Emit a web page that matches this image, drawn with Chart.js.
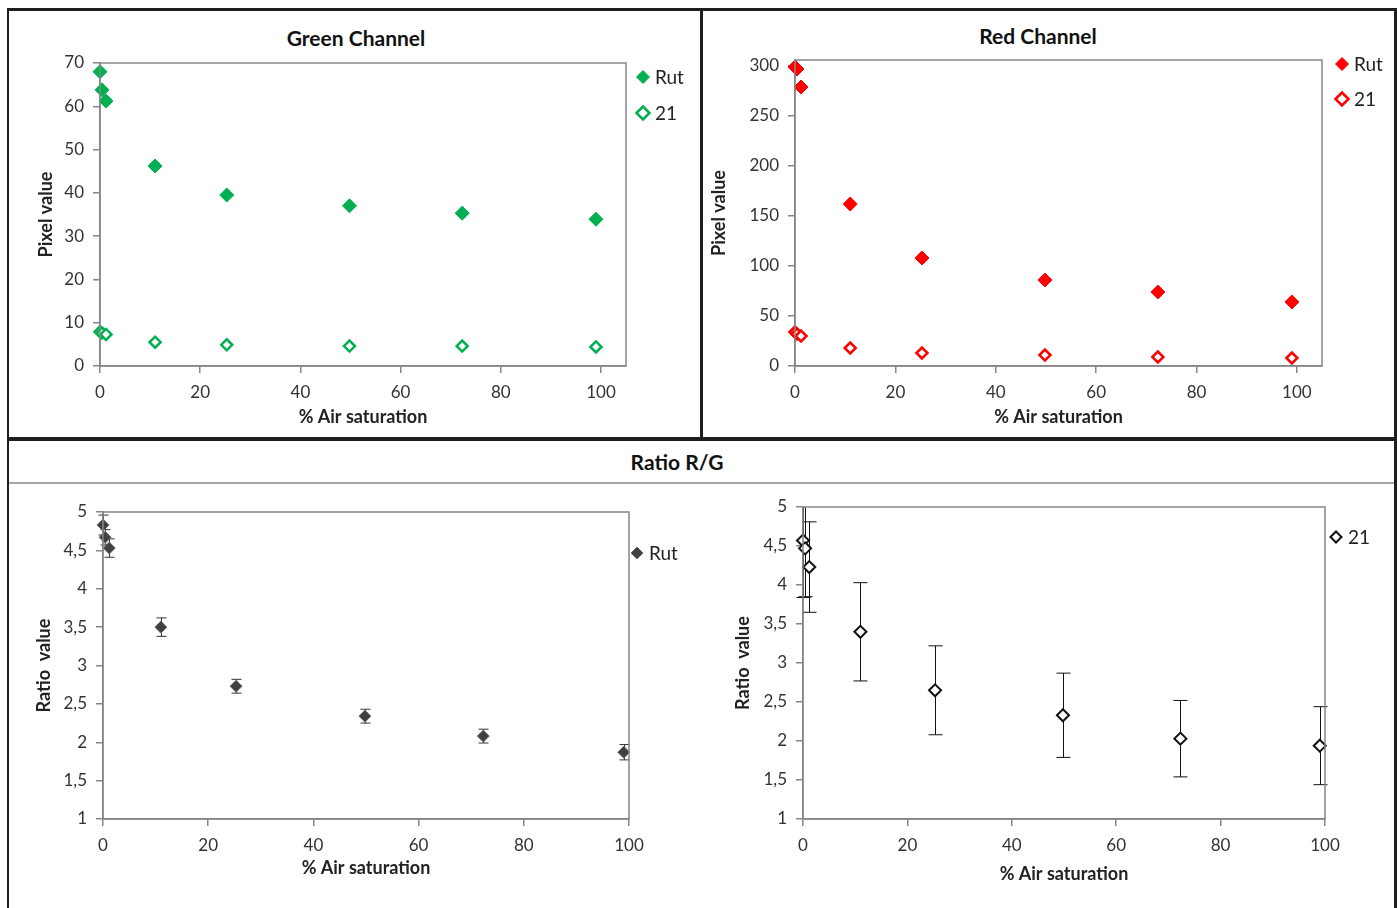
<!DOCTYPE html>
<html lang="en">
<head>
<meta charset="UTF-8">
<title>Channels</title>
<script src="https://cdn.jsdelivr.net/npm/chart.js"></script>
<style>
    body { margin: 0; background: #fff; font-family: Lato, "Open Sans", sans-serif; }
    .page { position: relative; width: 1397px; height: 908px; overflow: hidden; }
    .line { position: absolute; background: #1e1e1e; }
    canvas { position: absolute; }
    .title { position: absolute; font-weight: bold; font-size: 21px; color: #111; transform: translateX(-50%); white-space: nowrap; }
</style>
</head>
<body>
<div class="page">
    <!-- frame -->
    <div class="line" style="left:7px; top:8px; width:1390px; height:3px;"></div>
    <div class="line" style="left:7px; top:8px; width:2px; height:900px;"></div>
    <div class="line" style="left:700px; top:8px; width:3px; height:431px;"></div>
    <div class="line" style="left:1394px; top:8px; width:3px; height:900px;"></div>
    <div class="line" style="left:7px; top:437px; width:1390px; height:4px;"></div>
    <div class="line" style="left:9px; top:482px; width:1385px; height:2px; background:#a6a6a6;"></div>

    <div class="title" style="left:356px; top:25px;">Green Channel</div>
    <div class="title" style="left:1038px; top:23px;">Red Channel</div>
    <div class="title" style="left:677px; top:449px;">Ratio R/G</div>

    <canvas id="green" width="690" height="424" style="left:10px; top:12px;"></canvas>
    <canvas id="red" width="690" height="424" style="left:703px; top:12px;"></canvas>
    <canvas id="ratioRut" width="690" height="422" style="left:10px; top:486px;"></canvas>
    <canvas id="ratio21" width="690" height="422" style="left:703px; top:486px;"></canvas>
</div>
<script>
// % air saturation (x)
const airSat = [0, 0.4, 1.2, 11, 25.3, 49.8, 72.3, 99];

// pixel values
const greenRut = [68, 63.8, 61.2, 46.2, 39.5, 37, 35.3, 33.9];
const green21 = [7.9, 7.6, 7.3, 5.5, 4.9, 4.6, 4.6, 4.4];
const redRut = [299, 297, 279, 162, 108, 86, 74, 64];
const red21 = [34, 32, 30, 18, 13, 11, 9, 8];

// ratio R/G and its error
const ratioRut = [4.83, 4.67, 4.53, 3.50, 2.73, 2.34, 2.08, 1.87];
const ratioRutErr = [0.13, 0.1, 0.12, 0.12, 0.09, 0.09, 0.09, 0.1];
const ratio21 = [4.57, 4.47, 4.23, 3.40, 2.65, 2.33, 2.03, 1.94];
const ratio21Err = [0.73, 0.62, 0.58, 0.63, 0.57, 0.54, 0.49, 0.5];

const xTicks = [0, 20, 40, 60, 80, 100];
const redTicks = [0, 50, 100, 150, 200, 250, 300];

const FONT = "Lato, 'Open Sans', sans-serif";
const AXIS = '#868686';

function pts(ys) {
    return airSat.map((x, i) => ({ x: x, y: ys[i] }));
}

// box around plot area + legend at the right side
const boxLegend = {
    id: 'boxLegend',
    afterDraw(chart, args, o) {
        const ctx = chart.ctx, a = chart.chartArea;
        ctx.save();
        ctx.strokeStyle = AXIS;
        ctx.lineWidth = 1.5;
        ctx.strokeRect(a.left, a.top, a.right - a.left, a.bottom - a.top);
        ctx.font = '19px ' + FONT;
        ctx.textBaseline = 'middle';
        chart.data.datasets.forEach((d, i) => {
            const x = a.right + o.left, y = a.top + o.top + i * o.gap;
            ctx.fillStyle = d.backgroundColor;
            ctx.strokeStyle = d.borderColor;
            ctx.lineWidth = d.borderWidth;
            Chart.helpers.drawPoint(ctx, { pointStyle: 'rectRot', radius: o.r, borderWidth: d.borderWidth }, x, y);
            ctx.fillStyle = '#222';
            ctx.fillText(d.label, x + 12, y + 1);
        });
        ctx.restore();
    }
};

// vertical error bars
const errBars = {
    id: 'errBars',
    beforeDatasetsDraw(chart, args, o) {
        if (!o.values) return;
        const ctx = chart.ctx, a = chart.chartArea;
        const xs = chart.scales.x, ys = chart.scales.y;
        const data = chart.data.datasets[0].data;
        ctx.save();
        ctx.beginPath();
        ctx.rect(a.left - 30, a.top, a.right - a.left + 60, a.bottom - a.top);
        ctx.clip();
        ctx.strokeStyle = o.color;
        ctx.lineWidth = 1;
        data.forEach((p, i) => {
            const px = Math.round(xs.getPixelForValue(p.x)) + 0.5;
            const y1 = ys.getPixelForValue(p.y + o.values[i]);
            const y2 = ys.getPixelForValue(p.y - o.values[i]);
            ctx.beginPath();
            ctx.moveTo(px, y1); ctx.lineTo(px, y2);
            ctx.moveTo(px - o.cap, y1); ctx.lineTo(px + o.cap, y1);
            ctx.moveTo(px - o.cap, y2); ctx.lineTo(px + o.cap, y2);
            ctx.stroke();
        });
        ctx.restore();
    }
};

function makeChart(id, datasets, c) {
    const tickFont = { family: FONT, size: 17 };
    const titleFont = { family: FONT, size: 18, weight: 'bold' };
    return new Chart(document.getElementById(id), {
        type: 'scatter',
        data: { datasets: datasets },
        plugins: [errBars, boxLegend],
        options: {
            responsive: false,
            animation: false,
            layout: { padding: c.pad },
            plugins: {
                legend: { display: false },
                tooltip: { enabled: false },
                errBars: c.err || {},
                boxLegend: c.legend
            },
            scales: {
                x: {
                    min: 0, max: c.xMax,
                    afterFit(s) { s.height = c.xH; },
                    afterBuildTicks(s) { s.ticks = xTicks.map(v => ({ value: v })); },
                    border: { color: AXIS, width: 1.5 },
                    grid: { drawOnChartArea: false, tickLength: 7, color: AXIS, lineWidth: 1.5 },
                    ticks: { font: tickFont, color: '#333', padding: 9, autoSkip: false, maxRotation: 0 },
                    title: { display: true, text: '% Air saturation', font: titleFont, color: '#222', padding: 4 }
                },
                y: {
                    min: c.yMin, max: c.yMax,
                    afterFit(s) { s.width = c.yW; },
                    afterBuildTicks: c.yTicks ? (s => { s.ticks = c.yTicks.map(v => ({ value: v })); }) : undefined,
                    border: { color: AXIS, width: 1.5 },
                    grid: { drawOnChartArea: false, tickLength: 7, color: AXIS, lineWidth: 1.5 },
                    ticks: {
                        stepSize: c.yStep, font: tickFont, color: '#333', padding: 9,
                        callback: v => String(v).replace('.', ',')
                    },
                    title: { display: true, text: c.yTitle, font: titleFont, color: '#222', padding: 4 }
                }
            }
        }
    });
}

function ds(label, ys, fill, border, bw, r) {
    return {
        label: label, data: pts(ys), backgroundColor: fill, borderColor: border,
        borderWidth: bw, pointStyle: 'rectRot', pointRadius: r, clip: false
    };
}

makeChart('green', [
    ds('Rut', greenRut, '#00B050', '#00B050', 1, 7),
    ds('21', green21, '#ffffff', '#00B050', 2.5, 5.5)
], {
    pad: { left: 21, top: 51, right: 74, bottom: 4 }, yW: 69, xH: 66, xMax: 105,
    yMin: 0, yMax: 70, yStep: 10, yTitle: 'Pixel value',
    legend: { left: 17, top: 14, gap: 36, r: 6.5 }
});

makeChart('red', [
    ds('Rut', redRut, '#FF0000', '#FF0000', 1, 7),
    ds('21', red21, '#ffffff', '#FF0000', 2.5, 5.5)
], {
    pad: { left: 1, top: 48, right: 71, bottom: 4 }, yW: 91, xH: 66, xMax: 105,
    yMin: 0, yMax: 306, yStep: 50, yTicks: redTicks, yTitle: 'Pixel value',
    legend: { left: 20, top: 4, gap: 35, r: 6.5 }
});

makeChart('ratioRut', [
    ds('Rut', ratioRut, '#404040', '#6e6e6e', 1, 6)
], {
    pad: { left: 19, top: 26, right: 71, bottom: 25 }, yW: 74, xH: 64, xMax: 100,
    yMin: 1, yMax: 5, yStep: 0.5, yTitle: 'Ratio  value',
    legend: { left: 8, top: 41, gap: 36, r: 6 },
    err: { values: ratioRutErr, color: '#333', cap: 5 }
});

makeChart('ratio21', [
    ds('21', ratio21, '#ffffff', '#111111', 2, 6)
], {
    pad: { left: 25, top: 21, right: 68, bottom: 19 }, yW: 75, xH: 70, xMax: 100,
    yMin: 1, yMax: 5, yStep: 0.5, yTitle: 'Ratio  value',
    legend: { left: 11, top: 30, gap: 36, r: 5.5 },
    err: { values: ratio21Err, color: '#111', cap: 7 }
});
</script>
</body>
</html>
